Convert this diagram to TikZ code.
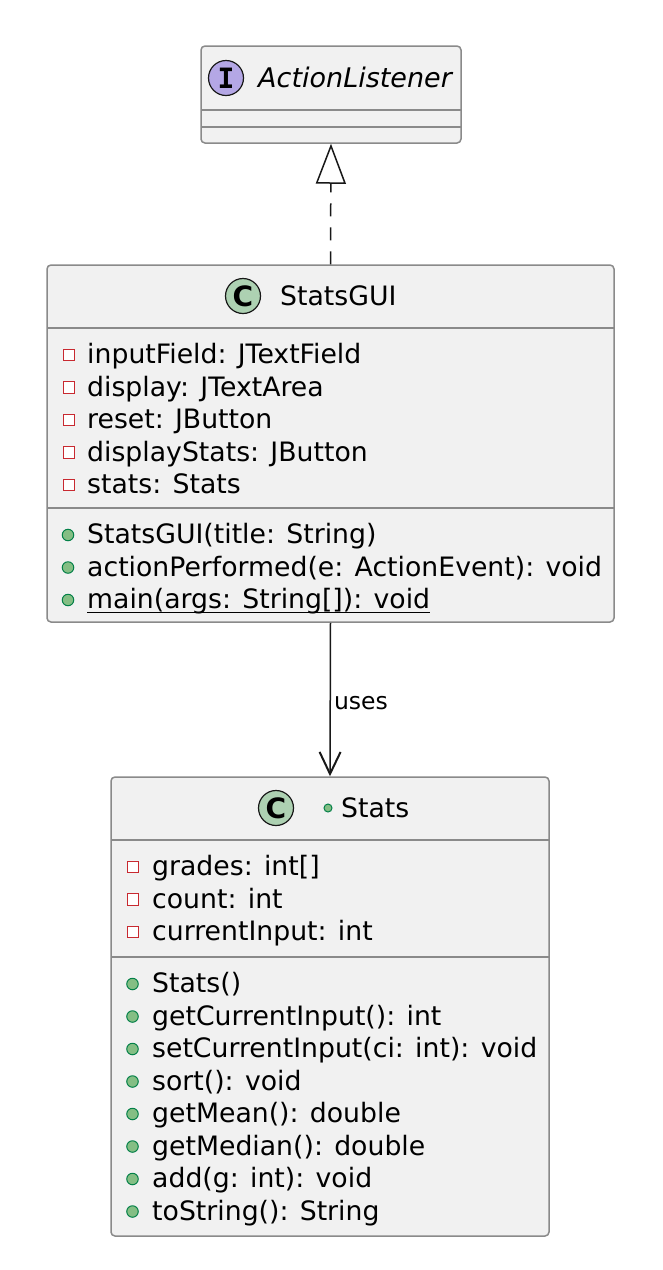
\documentclass[tikz,border=0pt]{standalone}
\usepackage{fontspec}
\setmainfont{DejaVu Sans}
\newfontfamily\monobold{DejaVu Sans Mono}
\usetikzlibrary{arrows.meta}
\definecolor{boxfill}{HTML}{F1F1F1}
\definecolor{boxline}{HTML}{8A8A8A}
\definecolor{inkdark}{HTML}{181818}
\definecolor{classgreen}{HTML}{ADD1B2}
\definecolor{ifacepurple}{HTML}{B4A7E5}
\definecolor{privred}{HTML}{C82930}
\definecolor{pubgreen}{HTML}{84BE84}
\definecolor{pubdark}{HTML}{038048}
\tikzset{
  classbox/.style={draw=boxline, line width=1.5pt, fill=boxfill, rounded corners=4pt, inner sep=0pt},
  sepline/.style={draw=boxline, line width=1.5pt},
  member/.style={anchor=base west, inner sep=0pt, text=black, font=\fontsize{26.7}{32}\selectfont},
  titletext/.style={anchor=base west, inner sep=0pt, text=black, font=\fontsize{26.7}{32}\selectfont},
  privicon/.style={rectangle, draw=privred, fill=white, line width=1.4pt, minimum size=11.5pt, inner sep=0pt},
  pubicon/.style={circle, draw=pubdark, fill=pubgreen, line width=1pt, minimum size=11.5pt, inner sep=0pt},
  spot/.style={circle, draw=inkdark, line width=1.2pt, minimum size=35pt, inner sep=0pt},
  spotletter/.style={inner sep=0pt, text=black, font=\bfseries\fontsize{28}{28}\selectfont},
  connector/.style={draw=inkdark, line width=1.5pt},
}
\begin{document}
\begin{tikzpicture}[x=1pt,y=-1pt]
\useasboundingbox[fill=white] (0,0) rectangle (662,1270);

% ---------- ActionListener ----------
\node[classbox, minimum width=260pt, minimum height=97pt] (al) at (331,94.5) {};
\draw[sepline] (201,110) -- (461,110);
\draw[sepline] (201,127) -- (461,127);
\node[spot, fill=ifacepurple] (alspot) at (226,78) {};
\node[spotletter, font=\monobold\bfseries\fontsize{28}{28}\selectfont] at (alspot.center) {I};
\node[titletext, font=\itshape\fontsize{27}{32}\selectfont] (altitle) at (258,87.5) {ActionListener};

% ---------- StatsGUI ----------
\node[classbox, minimum width=567pt, minimum height=357pt] (gui) at (330.5,443.5) {};
\draw[sepline] (47,328) -- (614,328);
\draw[sepline] (47,508) -- (614,508);
\node[spot, fill=classgreen] (guispot) at (243,296) {};
\node[spotletter] at (guispot.center) {C};
\node[titletext] (guititle) at (280,305.5) {StatsGUI};

\node[privicon] (ga1) at (69,355) {};
\node[member] (gt1) at (87,363.5) {inputField: JTextField};
\node[privicon] (ga2) at (69,387.5) {};
\node[member] (gt2) at (87,396) {display: JTextArea};
\node[privicon] (ga3) at (69,420) {};
\node[member] (gt3) at (87,428.5) {reset: JButton};
\node[privicon] (ga4) at (69,452.5) {};
\node[member] (gt4) at (87,461) {displayStats: JButton};
\node[privicon] (ga5) at (69,485) {};
\node[member] (gt5) at (87,493.5) {stats: Stats};

\node[pubicon] (gm1) at (68,535) {};
\node[member] (gn1) at (87,543.5) {StatsGUI(title: String)};
\node[pubicon] (gm2) at (68,567.5) {};
\node[member] (gn2) at (87,576) {actionPerformed(e: ActionEvent): void};
\node[pubicon] (gm3) at (68,600) {};
\node[member] (gn3) at (87,608.5) {main(args: String[]): void};
\draw[line width=1.4pt, black] ([yshift=2pt]gn3.south west) -- ([yshift=2pt]gn3.south east);

% ---------- Stats ----------
\node[classbox, minimum width=438pt, minimum height=459pt] (st) at (330,1006.5) {};
\draw[sepline] (111,840) -- (549,840);
\draw[sepline] (111,957) -- (549,957);
\node[spot, fill=classgreen] (stspot) at (276,808) {};
\node[spotletter] at (stspot.center) {C};
\node[pubicon, minimum size=8pt] (stvis) at (328,808) {};
\node[titletext] (sttitle) at (341,817.5) {Stats};

\node[privicon] (sa1) at (133,867) {};
\node[member] (st1) at (152,875.5) {grades: int[]};
\node[privicon] (sa2) at (133,899.5) {};
\node[member] (st2) at (152,908) {count: int};
\node[privicon] (sa3) at (133,932) {};
\node[member] (st3) at (152,940.5) {currentInput: int};

\node[pubicon] (sm1) at (132.5,984) {};
\node[member] (sn1) at (152,992.5) {Stats()};
\node[pubicon] (sm2) at (132.5,1016.5) {};
\node[member] (sn2) at (152,1025) {getCurrentInput(): int};
\node[pubicon] (sm3) at (132.5,1049) {};
\node[member] (sn3) at (152,1057.5) {setCurrentInput(ci: int): void};
\node[pubicon] (sm4) at (132.5,1081.5) {};
\node[member] (sn4) at (152,1090) {sort(): void};
\node[pubicon] (sm5) at (132.5,1114) {};
\node[member] (sn5) at (152,1122.5) {getMean(): double};
\node[pubicon] (sm6) at (132.5,1146.5) {};
\node[member] (sn6) at (152,1155) {getMedian(): double};
\node[pubicon] (sm7) at (132.5,1179) {};
\node[member] (sn7) at (152,1187.5) {add(g: int): void};
\node[pubicon] (sm8) at (132.5,1211.5) {};
\node[member] (sn8) at (152,1220) {toString(): String};

% ---------- connectors ----------
\draw[connector, dash pattern=on 13pt off 11pt, -{Triangle[length=40pt, width=30pt, fill=white, line width=1.5pt]}] (gui.north) -- (al.south);
\draw[connector, -{Straight Barb[length=22pt, width=21pt, line width=2pt]}] (gui.south) -- node[anchor=west, inner sep=0pt, xshift=3pt, yshift=-4pt, font=\fontsize{23.5}{28}\selectfont] (uses) {uses} (st.north);
\end{tikzpicture}
\end{document}
